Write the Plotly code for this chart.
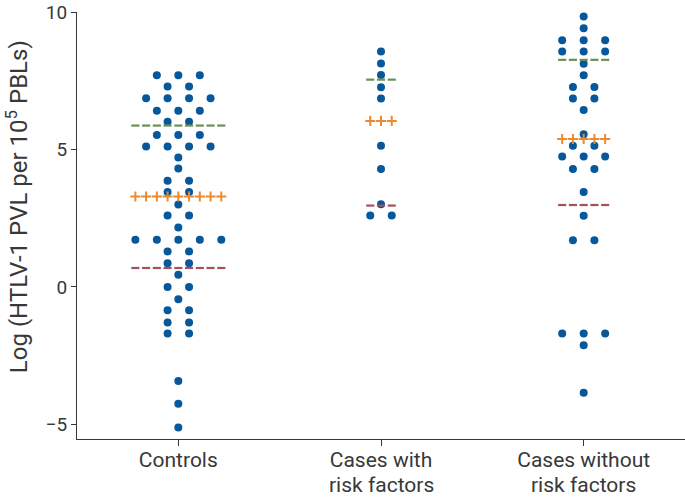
import plotly.graph_objects as go

category_line1 = ["Controls", "Cases with", "Cases without"]
category_line2 = ["", "risk factors", "risk factors"]

controls = [7.70, 7.70, 7.70, 7.29, 7.29, 6.86, 6.86, 6.86, 6.86, 6.41, 6.41, 6.41,
            6.01, 6.01, 5.53, 5.53, 5.53, 5.11, 5.11, 5.11, 5.11, 4.71, 4.31,
            3.86, 3.86, 3.45, 3.45, 3.00, 2.60, 2.60, 2.16,
            1.72, 1.72, 1.72, 1.72, 1.72, 1.29, 1.29, 0.86, 0.86, 0.44, 0.0, 0.0,
            -0.45, -0.85, -0.85, -1.29, -1.29, -1.69, -1.69, -3.42, -4.25, -5.11]
cases_with = [8.56, 8.13, 7.71, 7.26, 6.85, 5.14, 4.29, 3.01, 2.60, 2.60]
cases_without = [9.84, 9.41, 8.97, 8.97, 8.97, 8.56, 8.56, 8.56, 8.12, 7.70,
                 7.27, 7.27, 6.85, 6.85, 6.44, 5.55, 5.14, 5.14, 4.74, 4.74, 4.74,
                 4.29, 4.29, 3.45, 2.59, 1.70, 1.70, -1.69, -1.69, -1.69, -2.12, -3.85]

upper_line = [5.87, 7.54, 8.26]
median_line = [3.29, 6.04, 5.38]
lower_line = [0.69, 2.96, 2.98]

y_tickvals = [-5, 0, 5, 10]
y_ticktext = ["\u22125", "0", "5", "10"]
y_title = "Log (HTLV-1 PVL per 10<sup>5</sup> PBLs)"

groups = [controls, cases_with, cases_without]

DOT_STEP = 0.106
DOT_COLOR = "#07589a"
GREEN = "#6b8f55"
ORANGE = "#ec8a2f"
RED = "#a3505f"
TEXT = "#383838"
FONT = "Roboto"

fig = go.Figure()

xs, ys, widths = [], [], []
for gi, vals in enumerate(groups):
    counts = {}
    for v in vals:
        counts[v] = counts.get(v, 0) + 1
    widths.append(max(counts.values()))
    seen = {}
    for v in vals:
        n = counts[v]
        i = seen.get(v, 0)
        seen[v] = i + 1
        xs.append(gi + (i - (n - 1) / 2) * DOT_STEP)
        ys.append(v)

fig.add_trace(go.Scatter(x=xs, y=ys, mode="markers",
                         marker=dict(size=8, color=DOT_COLOR), hoverinfo="y"))


def line_marks(values, symbol, color, size, lw):
    lx, ly = [], []
    for gi, v in enumerate(values):
        n = 2 * (widths[gi] - 1) + 1
        for k in range(n):
            lx.append(gi + (k - (n - 1) / 2) * DOT_STEP / 2)
            ly.append(v)
    fig.add_trace(go.Scatter(x=lx, y=ly, mode="markers",
                             marker=dict(symbol=symbol, size=size,
                                         line=dict(color=color, width=lw), color=color),
                             hoverinfo="y"))


line_marks(upper_line, "line-ew", GREEN, 5.8, 2.2)
line_marks(lower_line, "line-ew", RED, 5.8, 2.2)
line_marks(median_line, "cross-thin", ORANGE, 7.2, 2)

annotations = []
for gi, t in enumerate(category_line2):
    if t:
        annotations.append(dict(text=t, x=gi, xref="x", y=0, yref="paper",
                                yanchor="middle", yshift=-46, showarrow=False,
                                font=dict(size=21, color=TEXT, family=FONT)))
annotations.append(dict(text=y_title, textangle=-90, x=0, xref="paper",
                        xanchor="center", xshift=-60, y=0.543, yref="paper",
                        yanchor="middle", showarrow=False,
                        font=dict(size=24, color=TEXT, family=FONT)))

fig.update_layout(
    width=685, height=500,
    margin=dict(l=77, r=0, t=12, b=61),
    paper_bgcolor="white", plot_bgcolor="white",
    showlegend=False,
    font=dict(family=FONT, size=20, color=TEXT),
    annotations=annotations,
    xaxis=dict(range=[-0.5, 2.5], tickvals=[0, 1, 2], ticktext=category_line1,
               tickfont=dict(size=21), ticklabelstandoff=-4,
               showline=True, linecolor=TEXT, linewidth=1, ticks="outside",
               ticklen=6, tickcolor=TEXT, showgrid=False, zeroline=False),
    yaxis=dict(range=[-5.53, 10], tickvals=y_tickvals, ticktext=y_ticktext,
               tickfont=dict(size=19),
               showline=True, linecolor=TEXT, linewidth=1, ticks="outside",
               ticklen=5, tickcolor=TEXT, showgrid=False, zeroline=False),
)

fig.write_html("out.html", config={"displayModeBar": False},
               post_script="document.body.style.margin='0';")
